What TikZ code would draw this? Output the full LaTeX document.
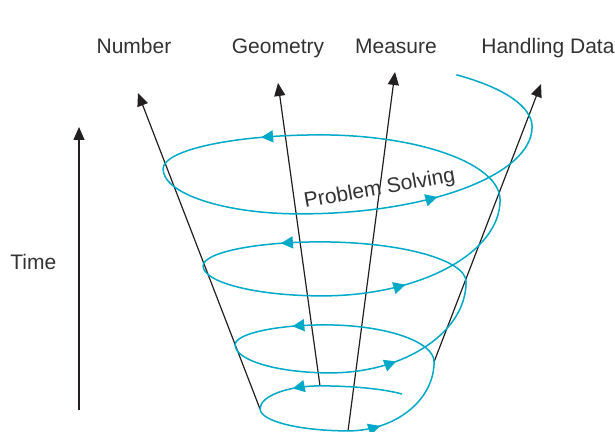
\documentclass[tikz,border=0pt]{standalone}
\usepackage{fontspec}
\setmainfont{Liberation Sans}
\usetikzlibrary{arrows.meta,decorations.markings}
\definecolor{SpiralCyan}{RGB}{0,169,199}
\definecolor{RayBlack}{RGB}{35,31,32}
\definecolor{LabelGray}{RGB}{50,50,50}
\tikzset{
  ray/.style={draw=RayBlack,line width=0.6pt,-{Triangle[length=6.5pt,width=5.5pt]}},
  lbl/.style={text=LabelGray,font=\fontsize{10.5}{12}\selectfont,inner sep=0pt},
  spiral/.style={color=SpiralCyan,line width=0.75pt,postaction={decorate},
    decoration={markings,
      mark=at position 55pt with {\arrow{Triangle[length=6pt,width=6pt]}},
      mark=at position 139pt with {\arrow{Triangle[length=6pt,width=6pt]}},
      mark=at position 261pt with {\arrow{Triangle[length=6pt,width=6pt]}},
      mark=at position 378pt with {\arrow{Triangle[length=6pt,width=6pt]}},
      mark=at position 533pt with {\arrow{Triangle[length=6pt,width=6pt]}},
      mark=at position 681pt with {\arrow{Triangle[length=6pt,width=6pt]}},
      mark=at position 880pt with {\arrow{Triangle[length=6pt,width=6pt]}},
      mark=at position 1079pt with {\arrow{Triangle[length=6pt,width=6pt]}}}},
}
\begin{document}
\begin{tikzpicture}[x=0.5pt,y=0.5pt]
\useasboundingbox (0,0) rectangle (615,432);
% points on the lowest turn
\coordinate (s0) at (402,38);
\coordinate (b1) at (320,46);
\coordinate (l1) at (260,23);
\coordinate (f1) at (348,1);
\coordinate (r1) at (434,70);
% arrow tips
\coordinate (tipN) at (138,339);
\coordinate (tipG) at (278,349);
\coordinate (tipM) at (395,360);
\coordinate (tipH) at (541,348);
\coordinate (t0) at (79,22);
\coordinate (t1) at (79,305);
\draw[ray] (l1) -- (tipN);
\draw[ray] (b1) -- (tipG);
\draw[ray] (f1) -- (tipM);
\draw[ray] (r1) -- (tipH);
\draw[ray] (t0) -- (t1);
% the spiral, quarter by quarter
\draw[spiral] (s0)
  arc[start angle=35,end angle=90,x radius=100,y radius=19]
  arc[start angle=90,end angle=180,x radius=60,y radius=23]
  arc[start angle=180,end angle=270,x radius=88,y radius=22]
  arc[start angle=270,end angle=360,x radius=86,y radius=69]
  arc[start angle=0,end angle=90,x radius=109,y radius=37]
  arc[start angle=90,end angle=180,x radius=90,y radius=20]
  arc[start angle=180,end angle=270,x radius=95,y radius=28]
  arc[start angle=270,end angle=360,x radius=136,y radius=91]
  arc[start angle=0,end angle=90,x radius=146,y radius=40]
  arc[start angle=90,end angle=180,x radius=117,y radius=24]
  arc[start angle=180,end angle=270,x radius=119,y radius=30]
  arc[start angle=270,end angle=360,x radius=178,y radius=96]
  arc[start angle=0,end angle=90,x radius=180,y radius=65]
  arc[start angle=90,end angle=180,x radius=157,y radius=34]
  arc[start angle=180,end angle=270,x radius=137,y radius=45]
  arc[start angle=270,end angle=360,x radius=232,y radius=87]
  arc[start angle=0,end angle=50,x radius=212,y radius=68];
% labels
\node[lbl,anchor=base] (number) at (134,378) {Number};
\node[lbl,anchor=base] (geometry) at (278,378) {Geometry};
\node[lbl,anchor=base] (measure) at (396,378) {Measure};
\node[lbl,anchor=base west] (handling) at (481,378) {Handling Data};
\node[lbl,anchor=base west] (time) at (10,162) {Time};
\node[lbl,anchor=base west,rotate=10] (solving) at (305,224) {Problem Solving};
\end{tikzpicture}
\end{document}
